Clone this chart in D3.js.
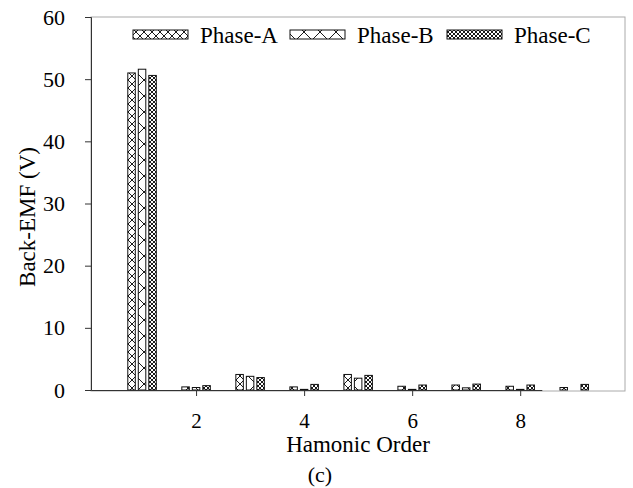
<!DOCTYPE html>
<html>
<head>
<meta charset="utf-8">
<script src="https://cdn.jsdelivr.net/npm/d3@7"></script>
<style>
  html, body { margin: 0; padding: 0; background: #fff; }
  svg text { font-family: "Liberation Serif", Tinos, "DejaVu Serif", serif !important; fill: #000; }
</style>
</head>
<body>
<svg id="chart" width="633" height="488"></svg>
<script>
// Harmonic orders and back-EMF amplitude per phase (V)
const harmonics = [1, 2, 3, 4, 5, 6, 7, 8, 9];
const phaseA = [51.0, 0.5, 2.5, 0.5, 2.5, 0.6, 0.8, 0.6, 0.4];
const phaseB = [51.6, 0.4, 2.2, 0.1, 1.9, 0.1, 0.35, 0.1, 0.0];
const phaseC = [50.6, 0.7, 2.0, 0.9, 2.35, 0.8, 0.95, 0.8, 0.9];
const seriesNames = ["Phase-A", "Phase-B", "Phase-C"];
const xTicks = [2, 4, 6, 8];
const yTicks = [0, 10, 20, 30, 40, 50, 60];

const series = [
  { name: seriesNames[0], values: phaseA, pattern: "patA" },
  { name: seriesNames[1], values: phaseB, pattern: "patB" },
  { name: seriesNames[2], values: phaseC, pattern: "patC" }
];

const svg = d3.select("#chart");
const plotL = 91, plotR = 625, plotT = 17, plotB = 390;
const serif = "'Liberation Serif', Tinos, 'DejaVu Serif', serif";

const x = d3.scaleLinear().domain([0.055, 9.94]).range([plotL, plotR]);
const y = d3.scaleLinear().domain([0, 60]).range([plotB, plotT]);
const inner = d3.scaleBand().domain(seriesNames).range([-14.25, 14.25]).paddingInner(0.286);

// hatch patterns
const defs = svg.append("defs");
function crossPattern(id, size, sw) {
  const p = defs.append("pattern").attr("id", id)
    .attr("patternUnits", "userSpaceOnUse")
    .attr("width", size).attr("height", size);
  p.append("rect").attr("width", size).attr("height", size).attr("fill", "#fff");
  p.append("path")
    .attr("d", `M0,0L${size},${size}M${size},0L0,${size}`)
    .attr("stroke", "#000").attr("stroke-width", sw).attr("fill", "none");
  return p;
}
crossPattern("patA", 8, 0.9);
crossPattern("patB", 16, 0.9);
crossPattern("patC", 4, 0.9);

// light frame around the plot area
svg.append("rect")
  .attr("x", plotL).attr("y", plotT)
  .attr("width", plotR - plotL).attr("height", plotB + 1 - plotT)
  .attr("fill", "none").attr("stroke", "#aaa").attr("stroke-width", 1);

// bars
series.forEach(s => {
  svg.append("g").selectAll("rect")
    .data(harmonics.map((h, i) => ({ h, v: s.values[i] })))
    .join("rect")
    .attr("x", d => x(d.h) + inner(s.name))
    .attr("width", inner.bandwidth())
    .attr("y", d => y(d.v))
    .attr("height", d => y(0) - y(d.v))
    .attr("fill", `url(#${s.pattern})`)
    .attr("stroke", "#111").attr("stroke-width", 1);
});

// y axis
const yAxis = d3.axisLeft(y).tickValues(yTicks).tickSize(6).tickPadding(20);
const gy = svg.append("g").attr("transform", `translate(${plotL},0)`).call(yAxis);
gy.attr("font-family", serif);
gy.select(".domain").attr("stroke", "#333");
gy.selectAll(".tick line").attr("stroke", "#333");
gy.selectAll("text").attr("font-size", 22);

// x axis (baseline runs to 8.4 on the harmonic scale)
const xAxisScale = x.copy().domain([x.invert(plotL), 8.4]).range([plotL, x(8.4)]);
const xAxis = d3.axisBottom(xAxisScale).tickValues(xTicks).tickFormat(d3.format("d"))
  .tickSize(6).tickSizeOuter(0).tickPadding(17);
const gx = svg.append("g").attr("transform", `translate(0,${plotB})`).call(xAxis);
gx.attr("font-family", serif);
gx.select(".domain").attr("stroke", "#333");
gx.selectAll(".tick line").attr("stroke", "#333");
gx.selectAll("text").attr("font-size", 21);

// axis titles
svg.append("text")
  .attr("transform", "translate(35,217) rotate(-90)")
  .attr("text-anchor", "middle")
  .attr("font-size", 23)
  .text("Back-EMF (V)");
svg.append("text")
  .attr("x", 358).attr("y", 452)
  .attr("text-anchor", "middle")
  .attr("font-size", 23)
  .text("Hamonic Order");
svg.append("text")
  .attr("x", 320).attr("y", 482)
  .attr("text-anchor", "middle")
  .attr("font-size", 22)
  .text("(c)");

// legend
const legendX = [133, 290, 447];
const legend = svg.append("g");
series.forEach((s, i) => {
  legend.append("rect")
    .attr("x", legendX[i]).attr("y", 30)
    .attr("width", 55).attr("height", 9)
    .attr("fill", `url(#${s.pattern})`)
    .attr("stroke", "#111").attr("stroke-width", 1);
  legend.append("text")
    .attr("x", legendX[i] + 67).attr("y", 43)
    .attr("font-size", 23)
    .text(s.name);
});
</script>
</body>
</html>
